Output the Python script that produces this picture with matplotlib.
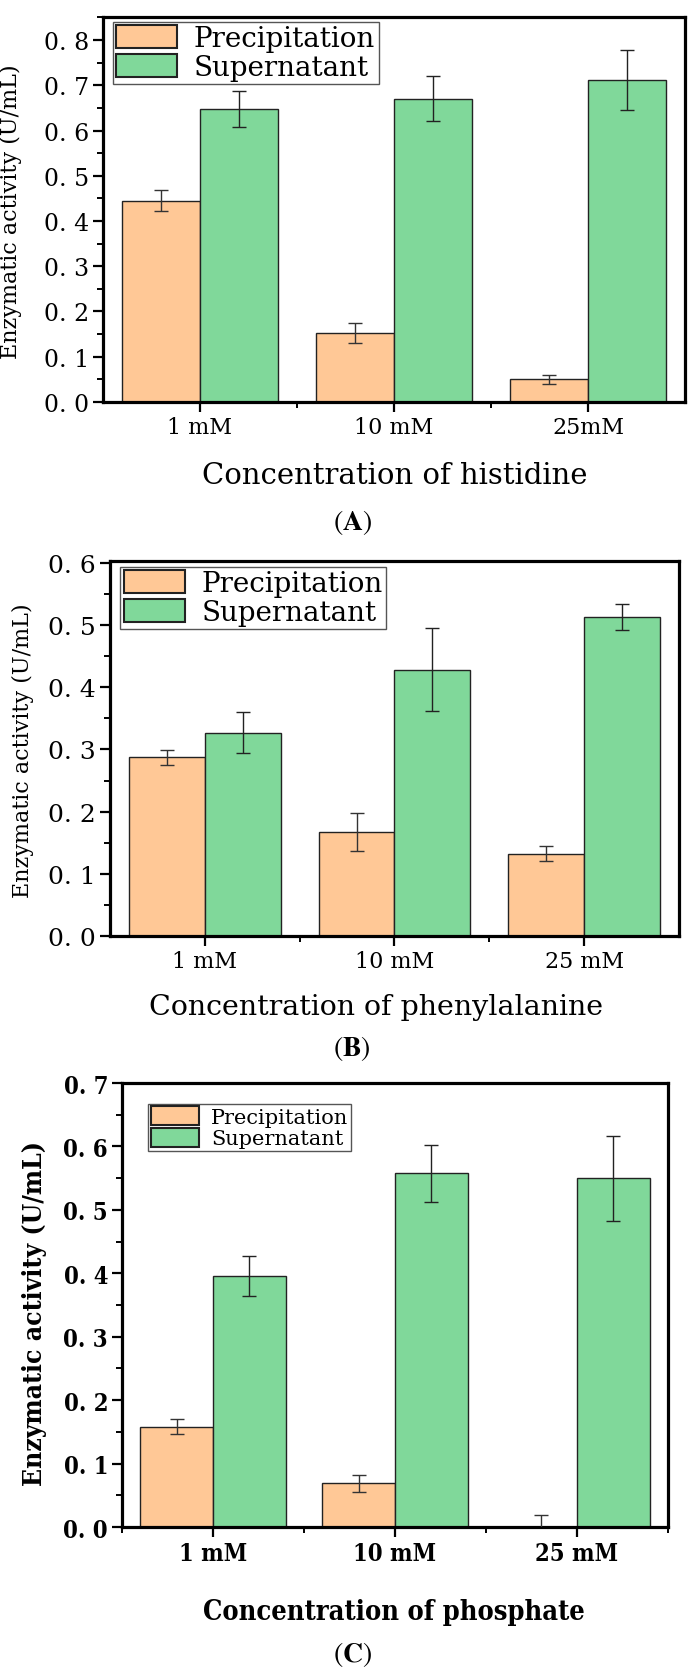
import matplotlib.pyplot as plt
import numpy as np
from matplotlib.ticker import FixedLocator, MultipleLocator, FuncFormatter

plt.rcParams['mathtext.fontset'] = 'stix'

conc_a = ['1 mM', '10 mM', '25mM']
conc_bc = ['1 mM', '10 mM', '25 mM']
series = ['Precipitation', 'Supernatant']

prec_a = [0.445, 0.153, 0.050]
prec_a_err = [0.023, 0.022, 0.010]
sup_a = [0.648, 0.670, 0.712]
sup_a_err = [0.040, 0.050, 0.067]

prec_b = [0.287, 0.167, 0.132]
prec_b_err = [0.012, 0.030, 0.012]
sup_b = [0.327, 0.428, 0.513]
sup_b_err = [0.033, 0.067, 0.021]

prec_c = [0.158, 0.069, 0.0]
prec_c_err = [0.012, 0.013, 0.019]
sup_c = [0.396, 0.558, 0.550]
sup_c_err = [0.032, 0.045, 0.067]

orange = '#FFC896'
green = '#80D89A'
serif = 'DejaVu Serif'


def panel(rect, cats, prec, prec_err, sup, sup_err, ymax, xlabel,
          tick_size, lab_size, ylab_size, leg_size, leg_xy, bold,
          xlab_xy, ylab_xy, handle=(2.2, 0.9), xminor=(1.5, 2.5)):
    ax = fig.add_axes(rect)
    x = np.arange(1, len(cats) + 1)
    w = 0.4
    ax.bar(x - w / 2, prec, w, color=orange, edgecolor='#222222', lw=1,
           label=series[0], zorder=2)
    ax.bar(x + w / 2, sup, w, color=green, edgecolor='#222222', lw=1,
           label=series[1], zorder=2)
    ax.errorbar(x - w / 2, prec, yerr=prec_err, fmt='none', ecolor='#333333',
                elinewidth=1, capsize=5, capthick=1, zorder=3)
    ax.errorbar(x + w / 2, sup, yerr=sup_err, fmt='none', ecolor='#222222',
                elinewidth=1, capsize=5, capthick=1, zorder=3)

    ax.set_xlim(0.5, 3.5)
    ax.set_ylim(0, ymax)
    ax.set_xticks(x)
    ax.set_xticklabels(cats)
    ax.xaxis.set_minor_locator(FixedLocator(list(xminor)))
    ax.yaxis.set_major_locator(MultipleLocator(0.1))
    ax.yaxis.set_minor_locator(MultipleLocator(0.05))
    ax.yaxis.set_major_formatter(FuncFormatter(lambda v, p: f'{v:.1f}'.replace('.', '. ')))
    ax.tick_params(which='major', direction='out', length=7, width=1.6, pad=3)
    ax.tick_params(which='minor', direction='out', length=4, width=1.4)

    font = dict(family=serif, weight='bold' if bold else 'normal',
                stretch='condensed' if bold else 'normal')
    for lab in ax.get_xticklabels():
        lab.set(fontsize=lab_size[0], **font)
    for lab in ax.get_yticklabels():
        lab.set(fontsize=tick_size, **font)
    for s in ax.spines.values():
        s.set_linewidth(2.3)

    ax.set_xlabel(xlabel, fontsize=lab_size[1], **font)
    ax.set_ylabel('Enzymatic activity (U/mL)', fontsize=ylab_size, **font)
    ax.xaxis.set_label_coords(*xlab_xy)
    ax.yaxis.set_label_coords(*ylab_xy)

    leg = ax.legend(loc='upper left', bbox_to_anchor=leg_xy, borderaxespad=0,
                    fancybox=False, edgecolor='#555555', framealpha=1,
                    handlelength=handle[0], handleheight=handle[1],
                    labelspacing=0.05, borderpad=0.12, handletextpad=0.6,
                    prop=dict(family=serif, size=leg_size))
    leg.get_frame().set_linewidth(1)
    for p in leg.get_patches():
        p.set_linewidth(1.5)
    return ax


fig = plt.figure(figsize=(7, 16.81), dpi=100)

panel([0.1471, 0.7603, 0.8314, 0.2290], conc_a, prec_a, prec_a_err,
      sup_a, sup_a_err, 0.851, 'Concentration of histidine',
      17, (16, 21), 16, 20, (0.017, 0.987), False,
      (0.502, -0.153), (-0.139, 0.496))

panel([0.1571, 0.4426, 0.8129, 0.2231], conc_bc, prec_b, prec_b_err,
      sup_b, sup_b_err, 0.603, 'Concentration of phenylalanine',
      18, (16, 20.5), 16, 20, (0.018, 0.984), False,
      (0.468, -0.152), (-0.134, 0.496))

panel([0.1743, 0.0910, 0.7800, 0.2641], conc_bc, prec_c, prec_c_err,
      sup_c, sup_c_err, 0.7, 'Concentration of phosphate',
      17, (17, 19.5), 19, 15, (0.048, 0.953), True,
      (0.498, -0.16), (-0.137, 0.484), handle=(2.3, 1.0),
      xminor=(0.5, 1.5, 2.5, 3.5))

fig.text(0.503, 0.689, r'$(\mathbf{A})$', ha='center', va='center', fontsize=20)
fig.text(0.503, 0.376, r'$(\mathbf{B})$', ha='center', va='center', fontsize=20)
fig.text(0.503, 0.016, r'$(\mathbf{C})$', ha='center', va='center', fontsize=20)

fig.savefig('out.png', dpi=100)
